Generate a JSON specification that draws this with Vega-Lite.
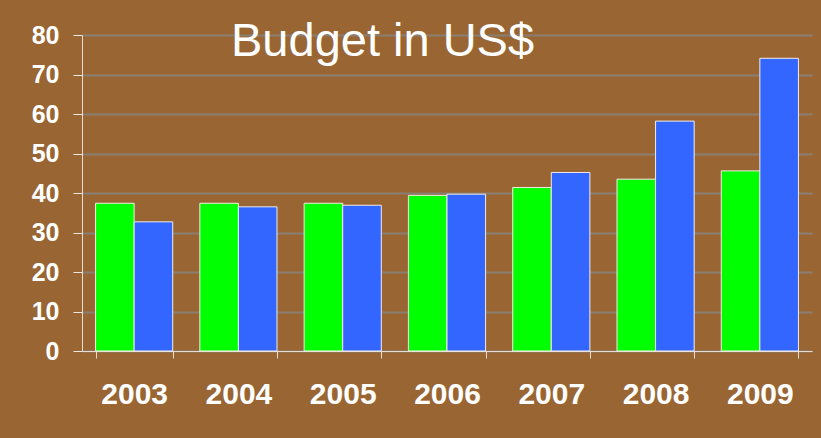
{
  "$schema": "https://vega.github.io/schema/vega-lite/v6.json",
  "autosize": {"type": "none"},
  "padding": {"left": 82, "top": 35, "right": 9, "bottom": 87},
  "width": 730,
  "height": 316,
  "background": "#996633",
  "title": {
    "text": "Budget in US$",
    "anchor": "start",
    "frame": "group",
    "dx": 149,
    "offset": -80,
    "baseline": "alphabetic",
    "font": "Liberation Sans",
    "fontSize": 47,
    "fontWeight": "normal",
    "color": "#ffffff"
  },
  "data": {
    "values": [
      {"year": "2003", "series": "A", "value": 37.4},
      {"year": "2003", "series": "B", "value": 32.7},
      {"year": "2004", "series": "A", "value": 37.4},
      {"year": "2004", "series": "B", "value": 36.5},
      {"year": "2005", "series": "A", "value": 37.4},
      {"year": "2005", "series": "B", "value": 36.9},
      {"year": "2006", "series": "A", "value": 39.4},
      {"year": "2006", "series": "B", "value": 39.7},
      {"year": "2007", "series": "A", "value": 41.4},
      {"year": "2007", "series": "B", "value": 45.2},
      {"year": "2008", "series": "A", "value": 43.5},
      {"year": "2008", "series": "B", "value": 58.2},
      {"year": "2009", "series": "A", "value": 45.6},
      {"year": "2009", "series": "B", "value": 74.1}
    ]
  },
  "mark": {"type": "bar", "stroke": "#f4ece4", "strokeWidth": 1},
  "encoding": {
    "x": {
      "field": "year",
      "type": "nominal",
      "scale": {"paddingInner": 0.26, "paddingOuter": 0.13},
      "axis": {
        "title": null,
        "labelAngle": 0,
        "labelFont": "Liberation Sans",
        "labelFontSize": 30,
        "labelFontWeight": "bold",
        "labelColor": "#ffffff",
        "labelPadding": 21,
        "tickBand": "extent",
        "tickSize": 7,
        "tickColor": "#e8ddd2",
        "domainColor": "#e8ddd2",
        "grid": false
      }
    },
    "xOffset": {"field": "series", "type": "nominal", "scale": {"paddingInner": 0, "paddingOuter": 0}},
    "y": {
      "field": "value",
      "type": "quantitative",
      "scale": {"domain": [0, 80], "nice": false},
      "axis": {
        "title": null,
        "values": [0, 10, 20, 30, 40, 50, 60, 70, 80],
        "labelFont": "Liberation Sans",
        "labelFontSize": 25,
        "labelFontWeight": "bold",
        "labelColor": "#ffffff",
        "labelPadding": 14,
        "tickSize": 9,
        "tickColor": "#f0e8e0",
        "domainColor": "#e8ddd2",
        "grid": true,
        "gridColor": "#8a7e72",
        "gridWidth": 2,
        "gridOpacity": 1
      }
    },
    "color": {
      "field": "series",
      "type": "nominal",
      "scale": {"domain": ["A", "B"], "range": ["#00ff00", "#3366ff"]},
      "legend": null
    }
  },
  "config": {"view": {"stroke": null}}
}
